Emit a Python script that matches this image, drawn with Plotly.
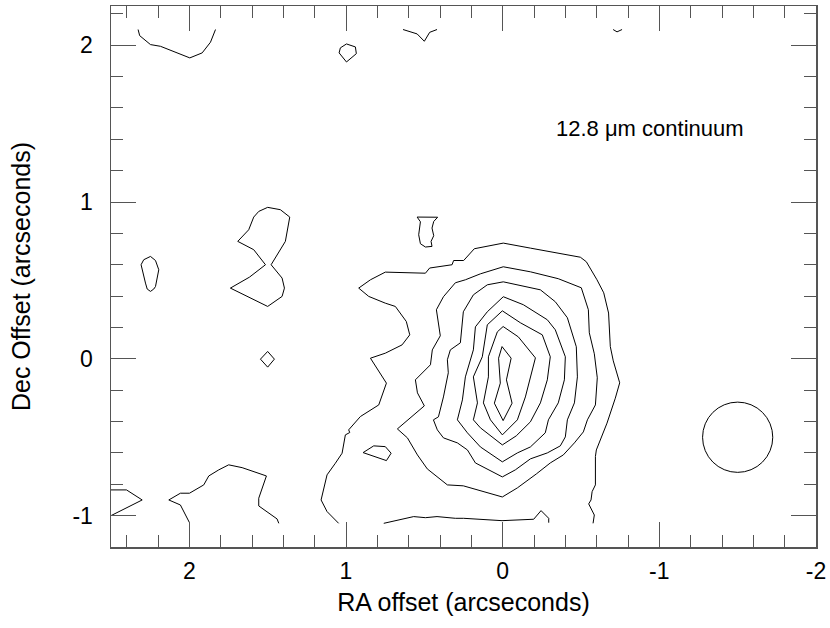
import plotly.graph_objects as go

# ---- contour paths (RA offset, Dec offset in arcseconds) ----
top_left_ra = [2.327, 2.317, 2.248, 2.184, 1.997, 1.918, 1.865, 1.833]
top_left_dec = [2.100, 2.061, 2.004, 1.993, 1.919, 1.951, 2.019, 2.100]

top_blob_ra = [0.997, 0.940, 0.934, 0.997, 1.044, 1.036, 0.997]
top_blob_dec = [2.008, 1.989, 1.946, 1.893, 1.951, 1.983, 2.008]

top_mid_ra = [0.636, 0.546, 0.500, 0.466, 0.419]
top_mid_dec = [2.100, 2.072, 2.025, 2.082, 2.100]

top_right_ra = [-0.705, -0.730, -0.762]
top_right_dec = [2.100, 2.085, 2.100]

left_blob_ra = [2.248, 2.216, 2.195, 2.216, 2.227, 2.248, 2.269, 2.280, 2.308, 2.291, 2.248]
left_blob_dec = [0.653, 0.627, 0.568, 0.461, 0.445, 0.430, 0.445, 0.483, 0.600, 0.632, 0.653]

eight_ra = [1.691, 1.621, 1.589, 1.557, 1.500, 1.419, 1.359, 1.387, 1.478, 1.408,
            1.393, 1.408, 1.500, 1.738, 1.616, 1.514, 1.589, 1.691]
eight_dec = [0.749, 0.823, 0.904, 0.940, 0.966, 0.951, 0.904, 0.749, 0.600, 0.515,
             0.451, 0.398, 0.334, 0.451, 0.521, 0.600, 0.696, 0.749]

diamond_ra = [1.500, 1.457, 1.500, 1.546, 1.500]
diamond_dec = [0.047, -0.002, -0.053, -0.002, 0.047]

north_blob_ra = [0.546, 0.525, 0.536, 0.525, 0.493, 0.451, 0.457, 0.440, 0.451, 0.440, 0.415, 0.546]
north_blob_dec = [0.904, 0.874, 0.791, 0.734, 0.713, 0.717, 0.749, 0.785, 0.834, 0.876, 0.903, 0.904]

outer_ra = [1.047, 1.121, 1.159, 1.138, 1.121, 1.068, 1.025, 1.004, 0.976, 0.983,
            0.908, 0.791, 0.742, 0.844, 0.749, 0.642, 0.593, 0.615, 0.685, 0.749,
            0.855, 0.919, 0.844, 0.749, 0.568, 0.493, 0.466, 0.323, 0.313, 0.249,
            0.181, -0.004, -0.177, -0.496, -0.534, -0.602, -0.645, -0.676, -0.687, -0.706,
            -0.747, -0.719, -0.666, -0.598, -0.592, -0.592, -0.571, -0.564, -0.549, -0.585,
            -0.577]
outer_dec = [-1.049, -0.974, -0.900, -0.815, -0.740, -0.666, -0.602, -0.485, -0.470, -0.453,
             -0.368, -0.294, -0.155, 0.004, 0.036, 0.089, 0.153, 0.238, 0.334, 0.355,
             0.398, 0.451, 0.504, 0.553, 0.551, 0.546, 0.579, 0.600, 0.627, 0.627,
             0.702, 0.738, 0.706, 0.648, 0.619, 0.504, 0.421, 0.292, 0.078, -0.013,
             -0.153, -0.251, -0.410, -0.581, -0.623, -0.804, -0.847, -0.900, -0.925, -0.996,
             -1.049]

bottom_ra = [0.759, 0.568, 0.493, 0.419, 0.302, 0.249, 0.004, -0.198, -0.245, -0.272, -0.294, -0.294]
bottom_dec = [-1.049, -1.006, -1.013, -1.006, -1.017, -1.017, -1.032, -1.023, -0.968, -0.996, -1.017, -1.045]

small_sw_ra = [0.891, 0.823, 0.749, 0.712, 0.742, 0.891]
small_sw_dec = [-0.598, -0.555, -0.560, -0.602, -0.649, -0.598]

edge_west_ra = [2.50, 2.401, 2.301, 2.50]
edge_west_dec = [-0.836, -0.836, -0.900, -1.000]

south_west_ra = [1.999, 2.025, 2.057, 2.131, 2.057, 1.999, 1.908, 1.876, 1.812, 1.749,
                 1.663, 1.508, 1.557, 1.557, 1.440, 1.429]
south_west_dec = [-1.045, -0.996, -0.932, -0.900, -0.857, -0.857, -0.804, -0.747, -0.708, -0.676,
                  -0.694, -0.747, -0.889, -0.938, -1.021, -1.049]

level2_ra = [-0.004, -0.177, -0.355, -0.502, -0.547, -0.553, -0.585, -0.604, -0.592, -0.541,
             -0.515, -0.458, -0.387, -0.304, -0.215, -0.094, 0.002, 0.161, 0.251, 0.353,
             0.481, 0.544, 0.608, 0.672, 0.500, 0.544, 0.557, 0.461, 0.449, 0.398,
             0.423, 0.378, 0.302, 0.238, 0.142, -0.004]
level2_dec = [0.587, 0.555, 0.511, 0.453, 0.313, 0.166, 0.032, -0.121, -0.294, -0.389,
              -0.466, -0.536, -0.613, -0.664, -0.734, -0.823, -0.881, -0.836, -0.810, -0.804,
              -0.702, -0.613, -0.504, -0.447, -0.300, -0.217, -0.134, -0.038, 0.057, 0.147,
              0.313, 0.396, 0.485, 0.504, 0.542, 0.587]

level3_ra = [-0.004, -0.241, -0.336, -0.413, -0.470, -0.477, -0.458, -0.413, -0.400, -0.368,
             -0.285, -0.177, -0.081, 0.002, 0.174, 0.225, 0.289, 0.378, 0.417, 0.442,
             0.410, 0.378, 0.347, 0.353, 0.334, 0.270, 0.251, 0.187, 0.098, -0.004]
level3_dec = [0.491, 0.440, 0.364, 0.262, 0.077, -0.115, -0.281, -0.389, -0.498, -0.555,
              -0.600, -0.638, -0.708, -0.753, -0.664, -0.581, -0.536, -0.504, -0.453, -0.389,
              -0.370, -0.243, -0.089, -0.006, 0.057, 0.102, 0.300, 0.408, 0.472, 0.491]

level4_ra = [-0.004, -0.132, -0.285, -0.336, -0.400, -0.394, -0.355, -0.292, -0.272, -0.177,
             -0.094, 0.002, 0.142, 0.225, 0.289, 0.257, 0.238, 0.187, 0.174, 0.098, -0.004]
level4_dec = [0.396, 0.345, 0.249, 0.185, 0.013, -0.134, -0.281, -0.389, -0.472, -0.562,
              -0.600, -0.657, -0.562, -0.472, -0.389, -0.262, -0.115, 0.057, 0.204, 0.300, 0.396]

level5_ra = [0.002, -0.113, -0.253, -0.304, -0.285, -0.241, -0.177, -0.087, 0.002, 0.142,
             0.187, 0.161, 0.187, 0.130, 0.098, 0.002]
level5_dec = [0.306, 0.230, 0.153, 0.013, -0.134, -0.281, -0.402, -0.491, -0.549, -0.440,
              -0.389, -0.281, -0.115, 0.013, 0.217, 0.306]

level6_ra = [-0.003, -0.100, -0.209, -0.177, -0.145, -0.094, 0.002, 0.078, 0.123, 0.091,
             0.091, 0.034, -0.003]
level6_dec = [0.206, 0.140, 0.006, -0.115, -0.243, -0.389, -0.485, -0.389, -0.281, -0.115,
              0.013, 0.172, 0.206]

level7_ra = [0.004, -0.054, -0.024, -0.060, -0.003, 0.053, 0.015, 0.026, 0.004]
level7_dec = [0.078, 0.004, -0.134, -0.283, -0.394, -0.283, -0.155, 0.004, 0.078]

contours = [
    (top_left_ra, top_left_dec), (top_blob_ra, top_blob_dec), (top_mid_ra, top_mid_dec),
    (top_right_ra, top_right_dec), (left_blob_ra, left_blob_dec), (eight_ra, eight_dec),
    (diamond_ra, diamond_dec), (north_blob_ra, north_blob_dec), (outer_ra, outer_dec),
    (bottom_ra, bottom_dec), (small_sw_ra, small_sw_dec), (edge_west_ra, edge_west_dec),
    (south_west_ra, south_west_dec), (level2_ra, level2_dec), (level3_ra, level3_dec),
    (level4_ra, level4_dec), (level5_ra, level5_dec), (level6_ra, level6_dec),
    (level7_ra, level7_dec),
]

# beam
beam_ra = -1.5
beam_dec = -0.5
beam_radius = 0.224

label_text = "12.8 \u03bcm continuum"
label_ra = -0.94
label_dec = 1.47

x_tickvals = [2, 1, 0, -1, -2]
x_ticktext = ["2", "1", "0", "-1", "-2"]
y_tickvals = [-1, 0, 1, 2]
y_ticktext = ["-1", "0", "1", "2"]

FONT = "Liberation Sans, Arial, Helvetica, sans-serif"
AX = "#555555"

fig = go.Figure()
for ra, dec in contours:
    fig.add_trace(go.Scatter(x=ra, y=dec, mode="lines",
                             line=dict(color="black", width=1),
                             hoverinfo="skip", showlegend=False))

fig.add_shape(type="circle", xref="x", yref="y",
              x0=beam_ra - beam_radius, x1=beam_ra + beam_radius,
              y0=beam_dec - beam_radius, y1=beam_dec + beam_radius,
              line=dict(color="black", width=1))

fig.add_annotation(x=label_ra, y=label_dec, xref="x", yref="y", text=label_text,
                   showarrow=False, font=dict(family=FONT, size=22, color="black"))

axis_common = dict(
    showgrid=False, zeroline=False, showline=True, linecolor=AX, linewidth=1.5,
    mirror="allticks", ticks="inside", ticklen=25, tickwidth=1, tickcolor=AX,
    tickfont=dict(family=FONT, size=23, color="black"), automargin=False,
    minor=dict(ticks="inside", ticklen=12, tickwidth=1, tickcolor=AX, dtick=0.2),
)

fig.update_xaxes(range=[2.5, -2.0], tickmode="array", tickvals=x_tickvals, ticktext=x_ticktext,
                 ticklabelstandoff=3,
                 title=dict(text="RA offset (arcseconds)", standoff=10,
                            font=dict(family=FONT, size=25, color="black")),
                 **axis_common)
fig.update_yaxes(range=[-1.2, 2.25], tickmode="array", tickvals=y_tickvals, ticktext=y_ticktext,
                 ticklabelstandoff=12,
                 title=dict(text="Dec Offset (arcseconds)", standoff=34,
                            font=dict(family=FONT, size=25, color="black")),
                 **axis_common)

fig.update_layout(width=830, height=628, plot_bgcolor="white", paper_bgcolor="white",
                  margin=dict(l=111, r=14, t=6, b=81), showlegend=False,
                  font=dict(family=FONT), hovermode=False)

fig.write_html("out.html", config={"displayModeBar": False, "staticPlot": True},
               post_script="document.body.style.margin='0px';")
